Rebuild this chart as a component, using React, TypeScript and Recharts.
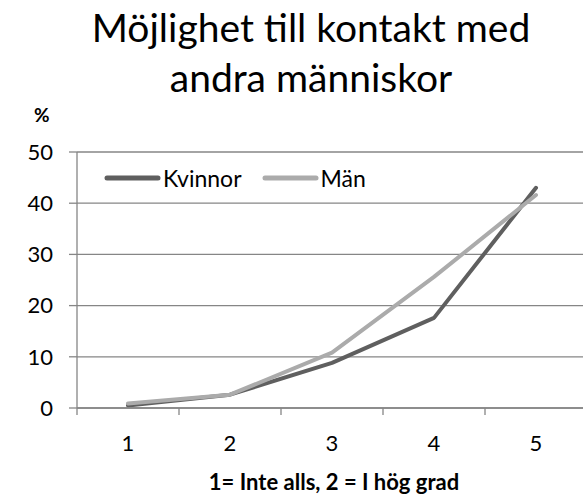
import React from "react";
import { LineChart, Line, XAxis, YAxis, CartesianGrid, Legend } from "recharts";

const categories = [1, 2, 3, 4, 5];
const kvinnor = [0.5, 2.6, 8.8, 17.6, 43.0];
const man = [0.9, 2.6, 10.8, 25.6, 41.6];
const yTicks = [0, 10, 20, 30, 40, 50];
const xBoundaries = [0.5, 1.5, 2.5, 3.5, 4.5, 5.5];
const titleLines = ["Möjlighet till kontakt med", "andra människor"];
const xTitle = "1= Inte alls, 2 = I hög grad";
const yUnit = "%";

const DARK = "#5f5f5f";
const LIGHT = "#ababab";
const GRID = "#868686";
const FONT = "Lato, 'Open Sans', sans-serif";

const data = categories.map((c, i) => ({ x: c, Kvinnor: kvinnor[i], "Män": man[i] }));
const xTicks = [...xBoundaries, ...categories].sort((a, b) => a - b);

const XTick = (props: any) => {
  const { x, y, payload } = props;
  const v = payload.value;
  if (Number.isInteger(v)) {
    return (
      <text x={x} y={y + 35} dy="0.35em" textAnchor="middle" fill="#000" fontSize={22} fontFamily={FONT}>
        {v}
      </text>
    );
  }
  return <line x1={x} x2={x} y1={y} y2={y + 7} stroke={GRID} strokeWidth={1.3} />;
};

const LegendContent = (props: any) => {
  const { payload } = props;
  return (
    <div style={{ display: "flex", alignItems: "center", fontFamily: FONT, fontSize: 23 }}>
      {payload.map((p: any, i: number) => (
        <div key={i} style={{ display: "flex", alignItems: "center", marginRight: i === 0 ? 20 : 0 }}>
          <svg width={57} height={8} style={{ marginRight: 2 }}>
            <line x1={3} x2={54} y1={4} y2={4} stroke={p.color} strokeWidth={5} strokeLinecap="round" />
          </svg>
          <span style={{ color: "#000" }}>{p.value}</span>
        </div>
      ))}
    </div>
  );
};

export default function App() {
  return (
    <div style={{ position: "absolute", left: 0, top: 0, width: 583, height: 495, overflow: "hidden", background: "#fff" }}>
      <div
        style={{
          position: "absolute",
          left: 311 - 260,
          top: 2,
          width: 520,
          textAlign: "center",
          fontFamily: FONT,
          fontSize: 39,
          lineHeight: "50px",
          color: "#000",
        }}
      >
        {titleLines.map((t, i) => (
          <div key={i}>{t}</div>
        ))}
      </div>
      <div style={{ position: "absolute", left: 34, top: 103, fontFamily: FONT, fontWeight: "bold", fontSize: 19, color: "#000" }}>
        {yUnit}
      </div>
      <LineChart width={587} height={495} data={data} margin={{ top: 152, right: 0, left: 17, bottom: 57 }}>
        <CartesianGrid vertical={false} stroke={GRID} strokeWidth={1.3} />
        <XAxis
          dataKey="x"
          type="number"
          domain={[0.5, 5.5]}
          ticks={xTicks}
          interval={0}
          tick={<XTick />}
          tickLine={false}
          tickSize={0}
          tickMargin={0}
          axisLine={{ stroke: GRID, strokeWidth: 1.3 }}
          height={30}
        />
        <YAxis
          domain={[0, 50]}
          ticks={yTicks}
          interval={0}
          width={60}
          tickSize={8}
          tickMargin={16}
          tick={{ fill: "#000", fontSize: 22, fontFamily: FONT }}
          tickLine={{ stroke: GRID, strokeWidth: 1.3 }}
          axisLine={{ stroke: GRID, strokeWidth: 1.3 }}
        />
        <Legend
          content={<LegendContent />}
          layout="horizontal"
          verticalAlign="middle"
          align="center"
          wrapperStyle={{ position: "absolute", top: 164, left: 104, width: 320 }}
        />
        <Line type="linear" dataKey="Kvinnor" stroke={DARK} strokeWidth={4} dot={false} isAnimationActive={false} strokeLinecap="round" strokeLinejoin="round" />
        <Line type="linear" dataKey="Män" stroke={LIGHT} strokeWidth={4} dot={false} isAnimationActive={false} strokeLinecap="round" strokeLinejoin="round" />
      </LineChart>
      <div
        style={{
          position: "absolute",
          left: 334 - 200,
          top: 469,
          width: 400,
          textAlign: "center",
          fontFamily: FONT,
          fontWeight: "bold",
          fontSize: 22,
          lineHeight: "26px",
          color: "#000",
        }}
      >
        {xTitle}
      </div>
    </div>
  );
}
